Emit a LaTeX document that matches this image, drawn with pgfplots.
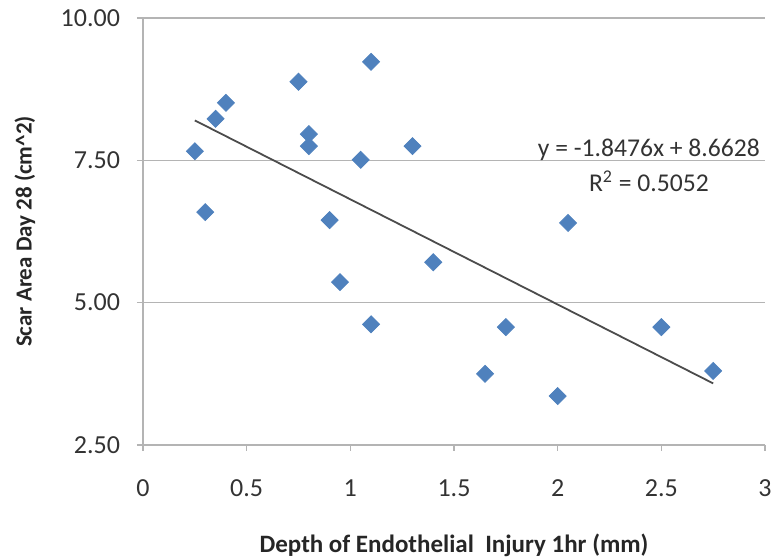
\documentclass[border=0pt]{standalone}
\usepackage{fontspec}
\setmainfont{Carlito}
\usepackage{pgfplots}
\pgfplotsset{compat=1.18}

\definecolor{ptblue}{HTML}{4F81BD}
\definecolor{gridgray}{HTML}{B4B4B4}

\begin{document}
\begin{tikzpicture}
\begin{axis}[
    scale only axis,
    width=311pt, height=213.5pt,
    xmin=0, xmax=3,
    ymin=2.5, ymax=10,
    xtick={0,0.5,...,3},
    ytick={2.5,5,7.5,10},
    xticklabels={0,0.5,1,1.5,2,2.5,3},
    yticklabel={\pgfmathprintnumber[fixed,fixed zerofill,precision=2]{\tick}},
    /pgf/number format/assume math mode=true,
    axis x line*=bottom, axis y line*=left,
    axis line style={draw=gridgray, line width=0.8pt, -},
    tick align=outside,
    major tick length=3pt,
    tick style={draw=gridgray, line width=0.8pt},
    ymajorgrids=true,
    grid style={draw=gridgray, line width=0.8pt},
    ticklabel style={font=\fontsize{13}{15}\selectfont, text=black!80},
    xticklabel style={yshift=-11pt},
    yticklabel style={xshift=-5pt},
    xlabel={Depth of Endothelial\ \ Injury 1hr (mm)},
    ylabel={Scar Area Day 28 (cm\textasciicircum 2)},
    label style={text=black!85},
    x label style={font=\bfseries\fontsize{12.5}{14}\selectfont,
        at={(axis description cs:0.5,-0.234)}, anchor=center},
    y label style={font=\bfseries\fontsize{11.5}{13}\selectfont,
        at={(axis description cs:-0.19,0.5)}, anchor=center, rotate=0},
    clip=false,
]
\coordinate (BL) at (rel axis cs:0,0);
\coordinate (TR) at (rel axis cs:1,1);

\addplot[only marks, mark=square*, mark size=3pt,
    mark options={rotate=45, fill=ptblue, draw=ptblue}]
coordinates {
(0.25,7.66) (0.30,6.59) (0.35,8.23) (0.40,8.51) (0.75,8.88)
(0.80,7.96) (0.80,7.75) (0.90,6.45) (0.95,5.36) (1.05,7.51)
(1.10,9.23) (1.10,4.62) (1.30,7.75) (1.40,5.71) (1.65,3.75)
(1.75,4.57) (2.00,3.36) (2.05,6.40) (2.50,4.57) (2.75,3.80)
};

\addplot[draw=black!70, line width=0.9pt] coordinates {
(0.25,8.2009) (2.75,3.5819)
};

\node[align=center, font=\fontsize{12.8}{17.5}\selectfont, text=black!80]
  at (axis cs:2.44,7.42) {y = -1.8476x + 8.6628\\R\textsuperscript{2} = 0.5052};
\end{axis}
\pgfresetboundingbox
\path ([shift={(-71.5pt,-56pt)}]BL) rectangle ([shift={(4.5pt,9pt)}]TR);
\end{tikzpicture}
\end{document}
